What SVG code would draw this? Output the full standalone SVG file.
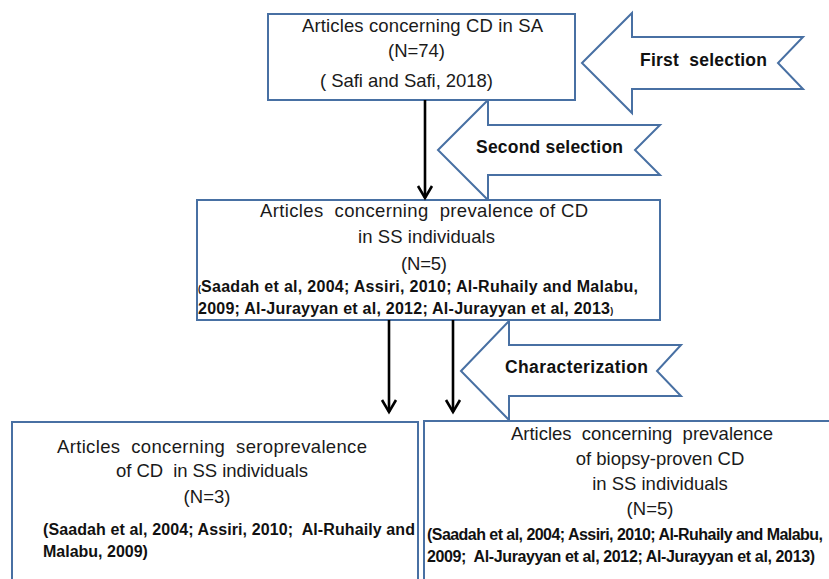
<svg xmlns="http://www.w3.org/2000/svg" width="829" height="579" viewBox="0 0 829 579">
<style>
.box{fill:#ffffff;stroke:#4870a3;stroke-width:2}
.blk{fill:#ffffff;stroke:#4870a3;stroke-width:2;stroke-linejoin:miter}
.t{font-family:"Liberation Sans",Arial,sans-serif;font-size:18.5px;fill:#1a1a1a;white-space:pre}
.m{text-anchor:middle}
.b{font-family:"Liberation Sans",Arial,sans-serif;font-weight:bold;font-size:16px;fill:#111;white-space:pre}
.lbl{font-family:"Liberation Sans",Arial,sans-serif;font-weight:bold;font-size:17.5px;fill:#111;white-space:pre}
.con{stroke:#000;stroke-width:2.6;fill:none}
</style>
<rect width="829" height="579" fill="#ffffff"/>

<g id="first-selection">
<polygon class="blk" points="582,63 632,13 632,37 803,37 778,63 803,89 632,89 632,113"/>
<text class="lbl" x="640" y="66" textLength="127">First  selection</text>
</g>

<g id="second-selection">
<polygon class="blk" points="438,150 488,100 488,125 660,125 635,150 660,175 488,175 488,200"/>
<text class="lbl" x="476" y="153" textLength="147">Second selection</text>
</g>

<g id="characterization">
<polygon class="blk" points="461,371 509,321 509,345 681,345 657,371 681,396 509,396 509,420"/>
<text class="lbl" x="505" y="373" textLength="143">Characterization</text>
</g>

<g id="top-box">
<rect class="box" x="268" y="14" width="307" height="86"/>
<text class="t" x="302" y="32" textLength="241">Articles concerning CD in SA</text>
<text class="t" x="388" y="57" textLength="57">(N=74)</text>
<text class="t" x="320" y="87" textLength="173">( Safi and Safi, 2018)</text>
</g>

<g id="middle-box">
<rect class="box" x="197" y="200" width="463" height="120"/>
<text class="t" x="260" y="217" textLength="328">Articles  concerning  prevalence of CD</text>
<text class="t" x="358" y="243" textLength="137">in SS individuals</text>
<text class="t" x="401" y="270" textLength="46">(N=5)</text>
<text class="b" x="198" y="292"><tspan font-size="9">(</tspan><tspan textLength="437">Saadah et al, 2004; Assiri, 2010; Al-Ruhaily and Malabu,</tspan></text>
<text class="b" x="198" y="314"><tspan textLength="412">2009; Al-Jurayyan et al, 2012; Al-Jurayyan et al, 2013</tspan><tspan font-size="9">)</tspan></text>
</g>

<g id="seroprevalence-box">
<rect class="box" x="12" y="422" width="406" height="180"/>
<text class="t" x="57" y="453" textLength="310">Articles  concerning  seroprevalence</text>
<text class="t" x="116" y="477" textLength="192">of CD  in SS individuals</text>
<text class="t m" x="207" y="503">(N=3)</text>
<text class="b" x="43" y="535" textLength="372">(Saadah et al, 2004; Assiri, 2010;  Al-Ruhaily and</text>
<text class="b" x="43" y="557">Malabu, 2009)</text>
</g>

<g id="biopsy-box">
<rect class="box" x="424" y="421" width="420" height="180"/>
<text class="t m" x="642" y="440">Articles  concerning  prevalence</text>
<text class="t m" x="660" y="465">of biopsy-proven CD</text>
<text class="t m" x="660" y="490">in SS individuals</text>
<text class="t m" x="650" y="515">(N=5)</text>
<text class="b" x="427" y="540" font-size="15" textLength="396">(Saadah et al, 2004; Assiri, 2010; Al-Ruhaily and Malabu,</text>
<text class="b" x="427" y="562" font-size="15" textLength="388">2009;  Al-Jurayyan et al, 2012; Al-Jurayyan et al, 2013)</text>
</g>

<g id="connectors">
<line class="con" x1="425" y1="100" x2="425" y2="198"/>
<polyline class="con" points="418,186 425,198 432,186"/>
<line class="con" x1="389" y1="320" x2="389" y2="412"/>
<polyline class="con" points="382,400 389,412 396,400"/>
<line class="con" x1="453" y1="320" x2="453" y2="412"/>
<polyline class="con" points="446,400 453,412 460,400"/>
</g>
</svg>
